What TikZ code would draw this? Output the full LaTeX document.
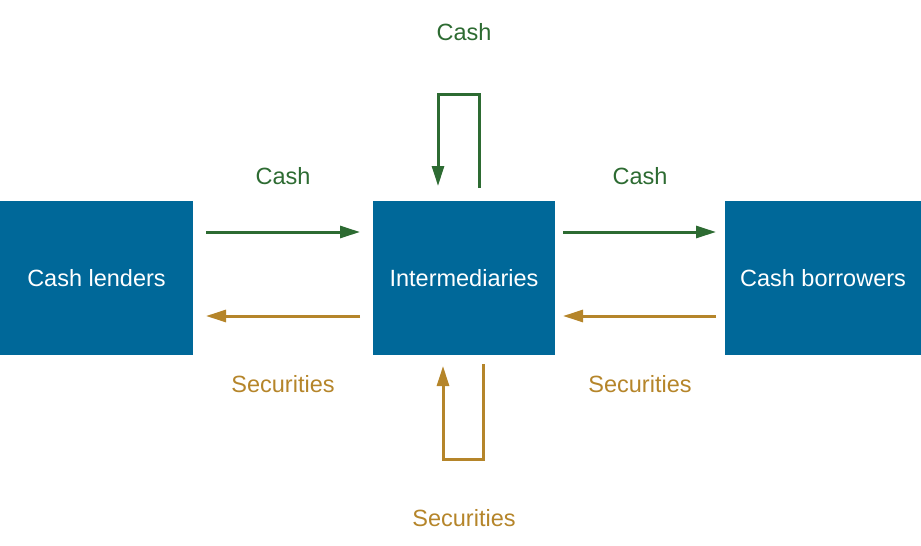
\documentclass[tikz,border=0pt]{standalone}
\usepackage{fontspec}
\setmainfont{Liberation Sans}
\usetikzlibrary{arrows.meta}
\definecolor{boxblue}{RGB}{0,104,153}
\definecolor{cashgreen}{RGB}{45,107,50}
\definecolor{secbrown}{RGB}{181,133,42}
\tikzset{
  entity/.style={fill=boxblue,draw=none,text=white,inner sep=0pt,minimum height=154pt,font=\fontsize{23.5}{26}\selectfont},
  cashflow/.style={draw=cashgreen,line width=3pt,-{Triangle[length=20pt,width=12pt]}},
  secflow/.style={draw=secbrown,line width=3pt,-{Triangle[length=20pt,width=12pt]}},
  cashlbl/.style={text=cashgreen,font=\fontsize{23.5}{26}\selectfont,inner sep=0pt},
  seclbl/.style={text=secbrown,font=\fontsize{23.5}{26}\selectfont,inner sep=0pt},
}
\begin{document}
\begin{tikzpicture}[x=1pt,y=-1pt]
\useasboundingbox (0,0) rectangle (921,546);
\node[entity,minimum width=193pt] (L) at (96.5,278) {Cash lenders};
\node[entity,minimum width=182pt] (M) at (464,278) {Intermediaries};
\node[entity,minimum width=196pt] (R) at (823,278) {Cash borrowers};
% arrow end points
\coordinate (lgs) at (206,232); \coordinate (lge) at (360,232);
\coordinate (lbs) at (360,316); \coordinate (lbe) at (206,316);
\coordinate (rgs) at (563,232); \coordinate (rge) at (716,232);
\coordinate (rbs) at (716,316); \coordinate (rbe) at (563,316);
\coordinate (ts) at (479,188); \coordinate (te) at (438,186);
\coordinate (bs) at (483,364); \coordinate (be) at (443,366);
\draw[cashflow] (lgs) -- (lge);
\draw[secflow] (lbs) -- (lbe);
\draw[cashflow] (rgs) -- (rge);
\draw[secflow] (rbs) -- (rbe);
\draw[cashflow] (ts) -- (479,94) -- (438,94) -- (te);
\draw[secflow] (bs) -- (483,459) -- (443,459) -- (be);
\node[cashlbl] (c1) at (464,32) {Cash};
\node[cashlbl] (c2) at (283,176) {Cash};
\node[cashlbl] (c3) at (640,176) {Cash};
\node[seclbl] (s1) at (283,384) {Securities};
\node[seclbl] (s2) at (640,384) {Securities};
\node[seclbl] (s3) at (464,518) {Securities};
\end{tikzpicture}
\end{document}
